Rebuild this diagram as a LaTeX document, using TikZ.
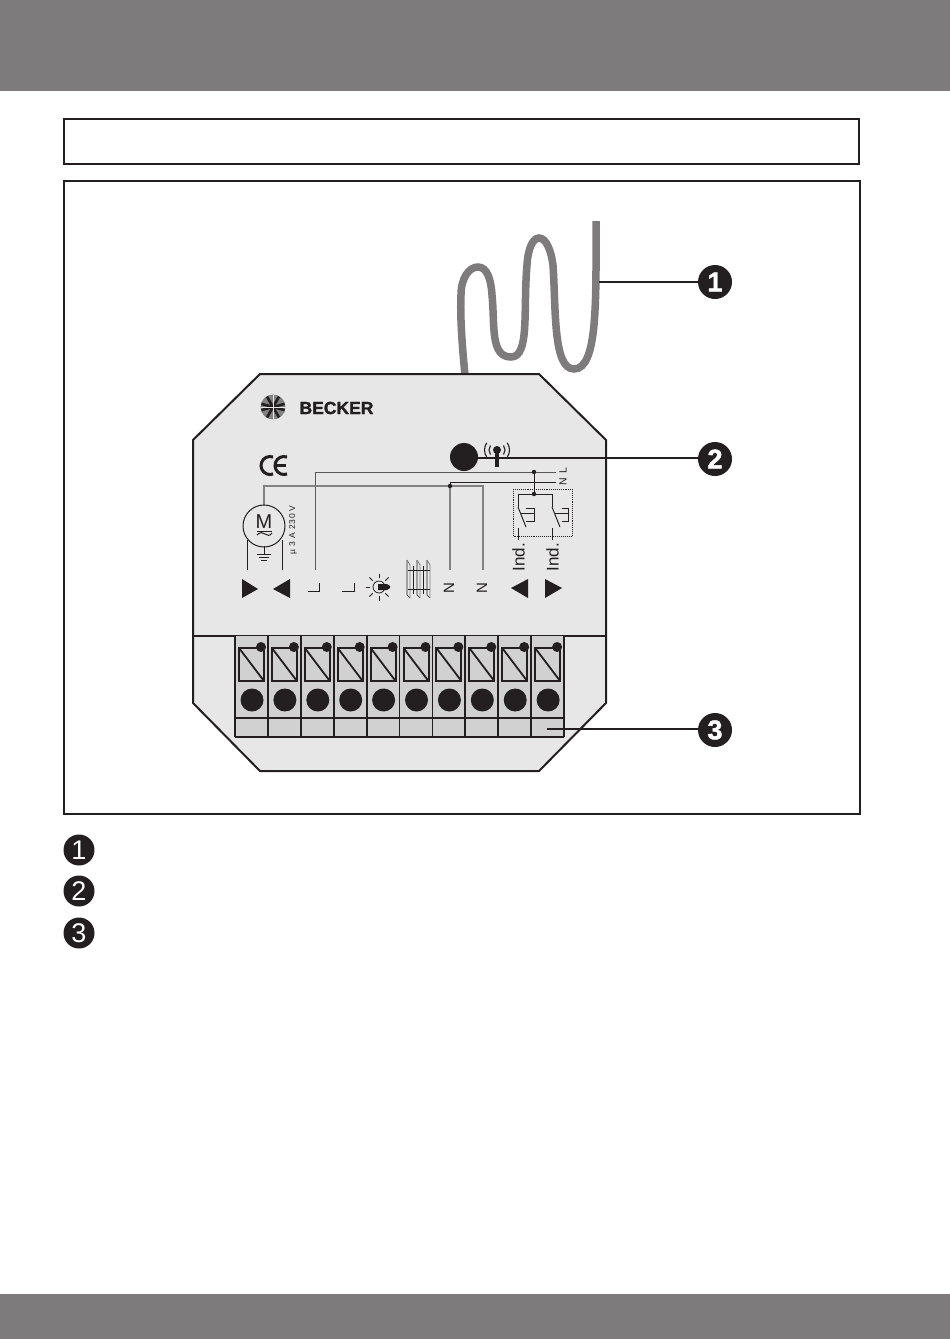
\documentclass[tikz,border=0pt]{standalone}
\usepackage{fontspec}
\setmainfont{Liberation Sans}
\newfontfamily\heavyfont[BoldFeatures={FakeBold=1.6}]{Liberation Sans}
\newfontfamily\spacedfont[LetterSpace=9]{Liberation Sans}
\definecolor{bandgray}{RGB}{125,123,124}
\definecolor{platefill}{RGB}{231,231,231}
\definecolor{termfill}{RGB}{209,209,209}
\definecolor{inkdark}{RGB}{35,31,32}
\definecolor{wiregray}{RGB}{130,130,130}
\tikzset{
  framebox/.style={draw=inkdark,line width=1.6pt},
  badge/.style={circle,fill=inkdark,text=white,inner sep=0pt,minimum size=34pt,font=\heavyfont\bfseries\fontsize{27}{27}\selectfont},
  keybadge/.style={circle,fill=inkdark,text=white,inner sep=0pt,minimum size=31pt,font=\fontsize{27}{27}\selectfont},
  leader/.style={draw=inkdark,line width=2pt},
  thinwire/.style={draw=inkdark,line width=1pt},
  greywire/.style={draw=wiregray,line width=1.3pt},
  termline/.style={draw=inkdark,line width=1.8pt},
  arrowmark/.style={fill=inkdark},
  rotlabel/.style={rotate=90,inner sep=0pt,text=inkdark},
}
\begin{document}
\begin{tikzpicture}[x=1pt,y=-1pt]
  \useasboundingbox (0,0) rectangle (950,1339);
  \fill[white] (0,0) rectangle (950,1339);
  % grey bands
  \fill[bandgray] (0,0) rectangle (950,91);
  \fill[bandgray] (0,1294) rectangle (950,1339);
  % frames
  \draw[framebox] (64,119) rectangle (859,164);
  \draw[framebox] (64,181) rectangle (860,814);
  % antenna
  \draw[draw=bandgray,line width=7.5pt] (465,375)
    .. controls (462,345) and (460,315) .. (461,295)
    .. controls (461,278) and (469,267) .. (478,267)
    .. controls (487,267) and (491,279) .. (492,295)
    .. controls (495,325) and (490,357) .. (511,357)
    .. controls (530,357) and (523,310) .. (527,265)
    .. controls (528,248) and (533,238) .. (539,238)
    .. controls (546,238) and (551,250) .. (553,265)
    .. controls (556,310) and (553,369) .. (574,369)
    .. controls (598,369) and (596,300) .. (596,221);
  % housing
  \filldraw[fill=platefill,draw=inkdark,line width=2pt]
    (193,440) -- (260,374) -- (539,374) -- (606,440) -- (606,703) -- (539,771) -- (260,771) -- (193,703) -- cycle;
  \draw[termline] (193,636) -- (606,636);
  % terminals
  \fill[termfill] (235,636) rectangle (564,737);
  \foreach \i in {0,...,9}{
    \pgfmathsetmacro{\tx}{235+32.9*\i}
    \draw[termline,line width=2pt] (\tx+4,648) rectangle (\tx+29,681);
    \draw[termline] (\tx+4,648) -- (\tx+29,681);
    \fill[inkdark] (\tx+26,647) circle (5pt);
    \fill[inkdark] (\tx+17,700) circle (11.5pt);
  }
  \foreach \i in {0,...,10}{
    \pgfmathsetmacro{\tx}{235+32.9*\i}
    \draw[termline] (\tx,636) -- (\tx,737);
  }
  \draw[termline] (235,718) -- (564,718);
  \draw[termline] (235,737) -- (564,737);
  % logo
  \fill[wiregray] (273,407) circle (12.5pt);
  \foreach \w in {15,60,120,165,195,240,300,345}
    \draw[inkdark,line width=2.6pt] (273,407) -- ++(\w:12pt);
  \foreach \w in {0,90,180,270}
    \draw[platefill,line width=.9pt] (273,407) -- ++(\w:12.5pt);
  \node[inner sep=0pt,text=inkdark,font=\heavyfont\bfseries\fontsize{17.5}{17.5}\selectfont] (brand) at (336.5,408) {BECKER};
  % CE
  \draw[inkdark,line width=3pt] ([shift={(70:9pt)}]270,465.5) arc (70:290:9pt);
  \draw[inkdark,line width=3pt] ([shift={(70:9pt)}]284,465.5) arc (70:290:9pt);
  \draw[inkdark,line width=2.2pt] (276,465.5) -- (286,465.5);
  % receiver button and aerial symbol
  \fill[inkdark] (464,457) circle (14pt);
  \draw[inkdark,line width=3.4pt] (497,450) -- (497,467);
  \fill[inkdark] (497,450) circle (4pt);
  \foreach \rr in {8,12.5}{
    \draw[inkdark,line width=1.1pt] ([shift={(145:\rr pt)}]497,450) arc (145:215:\rr pt);
    \draw[inkdark,line width=1.1pt] ([shift={(-35:\rr pt)}]497,450) arc (-35:35:\rr pt);
  }
  % mains wires
  \draw[greywire,draw=inkdark!75,line width=1pt] (315,570) -- (315,472) -- (556,472);
  \draw[thinwire] (450,486) -- (450,482) -- (556,482);
  \draw[greywire] (264,505) -- (264,486) -- (483,486) -- (483,570);
  \draw[greywire] (450,570) -- (450,486);
  \fill[inkdark] (450,486) circle (2.2pt);
  \fill[inkdark] (534,472) circle (2.2pt);
  \draw[thinwire] (534,472) -- (534,494);
  \fill[inkdark] (534,494) circle (2.2pt);
  \node[rotlabel,font=\spacedfont\fontsize{10.5}{10.5}\selectfont] (nlabel) at (563,476.5) {N L};
  % switches
  \draw[inkdark,line width=.9pt,densely dotted] (513,489) rectangle (572,536);
  \draw[thinwire] (518,507) -- (518,494) -- (552,494) -- (552,507);
  \draw[thinwire] (518,507) -- (526,527);
  \draw[thinwire] (552,507) -- (560,527);
  \draw[thinwire] (520,513) -- (534,513);
  \draw[thinwire] (526,508) -- (534,508) -- (534,521) -- (526,521);
  \draw[thinwire] (554,513) -- (568,513);
  \draw[thinwire] (562,508) -- (568,508) -- (568,521) -- (562,521);
  \draw[thinwire] (518,528) -- (518,540);
  \draw[thinwire] (552,528) -- (552,540);
  \node[rotlabel,font=\fontsize{17}{17}\selectfont] (indleft) at (518.5,557) {Ind.};
  \node[rotlabel,font=\fontsize{17}{17}\selectfont] (indright) at (552.5,557) {Ind.};
  % motor
  \draw[thinwire] (264,526) circle (21pt);
  \node[inner sep=0pt,text=inkdark,font=\fontsize{20}{20}\selectfont] (motor) at (264,522) {M};
  \draw[thinwire] (257,531) -- (272,531);
  \draw[inkdark,line width=1pt] (257,535) .. controls (260,532) and (263,532) .. (265,534) .. controls (267,536) and (270,536) .. (272,533);
  \draw[thinwire] (247,540) -- (247,570);
  \draw[thinwire] (282,540) -- (282,570);
  \draw[thinwire] (264,546) -- (264,554);
  \draw[thinwire] (257,554) -- (271,554);
  \draw[thinwire] (259,557) -- (269,557);
  \draw[thinwire] (261,560) -- (267,560);
  \node[rotlabel,font=\spacedfont\fontsize{8.5}{8.5}\selectfont] (rating) at (293,530) {µ 3 A 230 V~};
  % arrow marks
  \fill[arrowmark] (242,579) -- (258,589) -- (242,598) -- cycle;
  \fill[arrowmark] (290,579) -- (273,589) -- (290,598) -- cycle;
  \fill[arrowmark] (528,579) -- (511,588) -- (528,598) -- cycle;
  \fill[arrowmark] (545,579) -- (562,588) -- (545,598) -- cycle;
  % L marks
  \draw[thinwire] (308,591) -- (319,591) -- (319,583);
  \draw[thinwire] (342,591) -- (354,591) -- (354,583);
  % N marks
  \node[rotlabel,font=\fontsize{15}{15}\selectfont] (nleft) at (449,588) {N};
  \node[rotlabel,font=\fontsize{15}{15}\selectfont] (nright) at (482,588) {N};
  % lamp
  \draw[inkdark,line width=.8pt] (379,587) circle (6pt);
  \fill[inkdark] (378,584) -- (387,584) -- (390,586) -- (390,588) -- (387,590) -- (378,590) -- cycle;
  \foreach \w in {45,90,135,180,225,270,315}
    \draw[inkdark,line width=.8pt] (379,587) ++(\w:9pt) -- ++(\w:4.5pt);
  % slat symbol
  \foreach \sx in {407,417,427}{
    \draw[inkdark,line width=.6pt] (\sx,560) -- (\sx,595) -- (\sx+3,598);
    \draw[wiregray,line width=.9pt] (\sx,560) -- (\sx+3,565) -- (\sx+3,598);
  }
  \draw[thinwire] (408,570) -- (430,570);
  \draw[thinwire] (408,589) -- (430,589);
  \draw[thinwire] (413,566) -- (413,594);
  \draw[thinwire] (423,566) -- (423,594);
  % callouts
  \node[badge] (one) at (715,282) {1};
  \node[badge] (two) at (715,459) {2};
  \node[badge] (three) at (715,730) {3};
  \coordinate (aerial) at (599,282);
  \coordinate (button) at (477,458);
  \coordinate (clamp) at (547,729);
  \draw[leader] (aerial) -- (aerial-|one.west);
  \draw[leader] (button) -- (button-|two.west);
  \draw[leader] (clamp) -- (clamp-|three.west);
  % legend
  \node[keybadge] (keyone) at (79,850) {1};
  \node[keybadge] (keytwo) at (79,891) {2};
  \node[keybadge] (keythree) at (79,933) {3};
\end{tikzpicture}
\end{document}
